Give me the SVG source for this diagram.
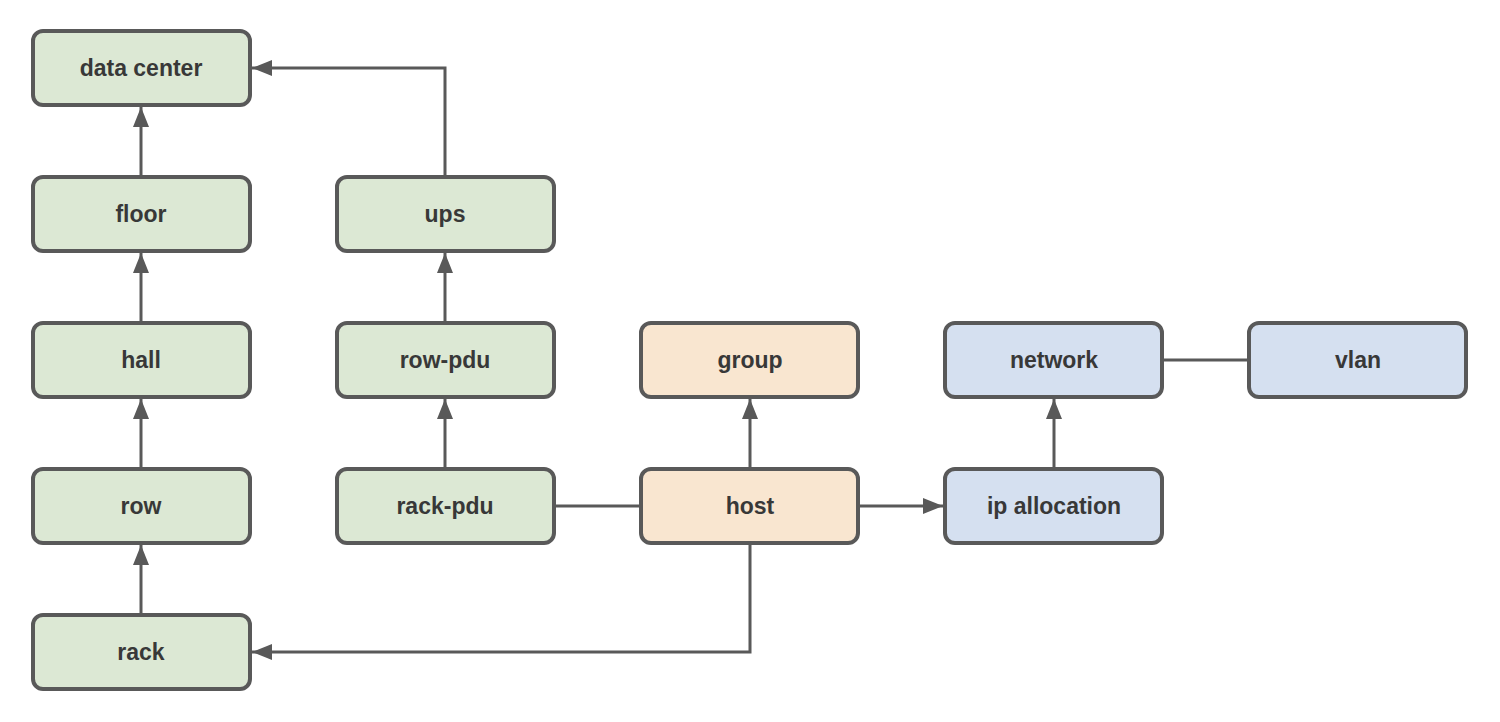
<svg xmlns="http://www.w3.org/2000/svg" width="1500" height="722" viewBox="0 0 1500 722">
<style>
.n rect{stroke:#595959;stroke-width:4}
.g rect{fill:#dce8d4}
.o rect{fill:#f9e6d0}
.b rect{fill:#d5e0f0}
.n text{font-family:"Liberation Sans",Arial,sans-serif;font-weight:bold;font-size:23px;fill:#383838;text-anchor:middle;dominant-baseline:central}
.c path{fill:none;stroke:#595959;stroke-width:3}
</style>
<defs>
<marker id="ah" viewBox="0 0 20 16" refX="20" refY="8" markerWidth="20" markerHeight="16" markerUnits="userSpaceOnUse" orient="auto">
<path d="M0,0 L20,8 L0,16 Z" fill="#595959"/>
</marker>
</defs>
<rect width="1500" height="722" fill="#ffffff"/>
<g id="connectors" class="c">
<path d="M141,177 V107" marker-end="url(#ah)"/>
<path d="M141,323 V253" marker-end="url(#ah)"/>
<path d="M141,469 V399" marker-end="url(#ah)"/>
<path d="M141,615 V545" marker-end="url(#ah)"/>
<path d="M445,177 V68 H252" marker-end="url(#ah)"/>
<path d="M445,323 V253" marker-end="url(#ah)"/>
<path d="M445,469 V399" marker-end="url(#ah)"/>
<path d="M750,469 V399" marker-end="url(#ah)"/>
<path d="M554,506 H641"/>
<path d="M858,506 H943" marker-end="url(#ah)"/>
<path d="M750,543 V652 H252" marker-end="url(#ah)"/>
<path d="M1054,469 V399" marker-end="url(#ah)"/>
<path d="M1162,360 H1249"/>
</g>
<g id="data-center" class="n g"><rect x="33" y="31" width="217" height="74" rx="10"/><text x="141" y="68">data center</text></g>
<g id="floor" class="n g"><rect x="33" y="177" width="217" height="74" rx="10"/><text x="141" y="214">floor</text></g>
<g id="hall" class="n g"><rect x="33" y="323" width="217" height="74" rx="10"/><text x="141" y="360">hall</text></g>
<g id="row" class="n g"><rect x="33" y="469" width="217" height="74" rx="10"/><text x="141" y="506">row</text></g>
<g id="rack" class="n g"><rect x="33" y="615" width="217" height="74" rx="10"/><text x="141" y="652">rack</text></g>
<g id="ups" class="n g"><rect x="337" y="177" width="217" height="74" rx="10"/><text x="445" y="214">ups</text></g>
<g id="row-pdu" class="n g"><rect x="337" y="323" width="217" height="74" rx="10"/><text x="445" y="360">row-pdu</text></g>
<g id="rack-pdu" class="n g"><rect x="337" y="469" width="217" height="74" rx="10"/><text x="445" y="506">rack-pdu</text></g>
<g id="group" class="n o"><rect x="641" y="323" width="217" height="74" rx="10"/><text x="750" y="360">group</text></g>
<g id="host" class="n o"><rect x="641" y="469" width="217" height="74" rx="10"/><text x="750" y="506">host</text></g>
<g id="network" class="n b"><rect x="945" y="323" width="217" height="74" rx="10"/><text x="1054" y="360">network</text></g>
<g id="ip-allocation" class="n b"><rect x="945" y="469" width="217" height="74" rx="10"/><text x="1054" y="506">ip allocation</text></g>
<g id="vlan" class="n b"><rect x="1249" y="323" width="217" height="74" rx="10"/><text x="1358" y="360">vlan</text></g>
</svg>
